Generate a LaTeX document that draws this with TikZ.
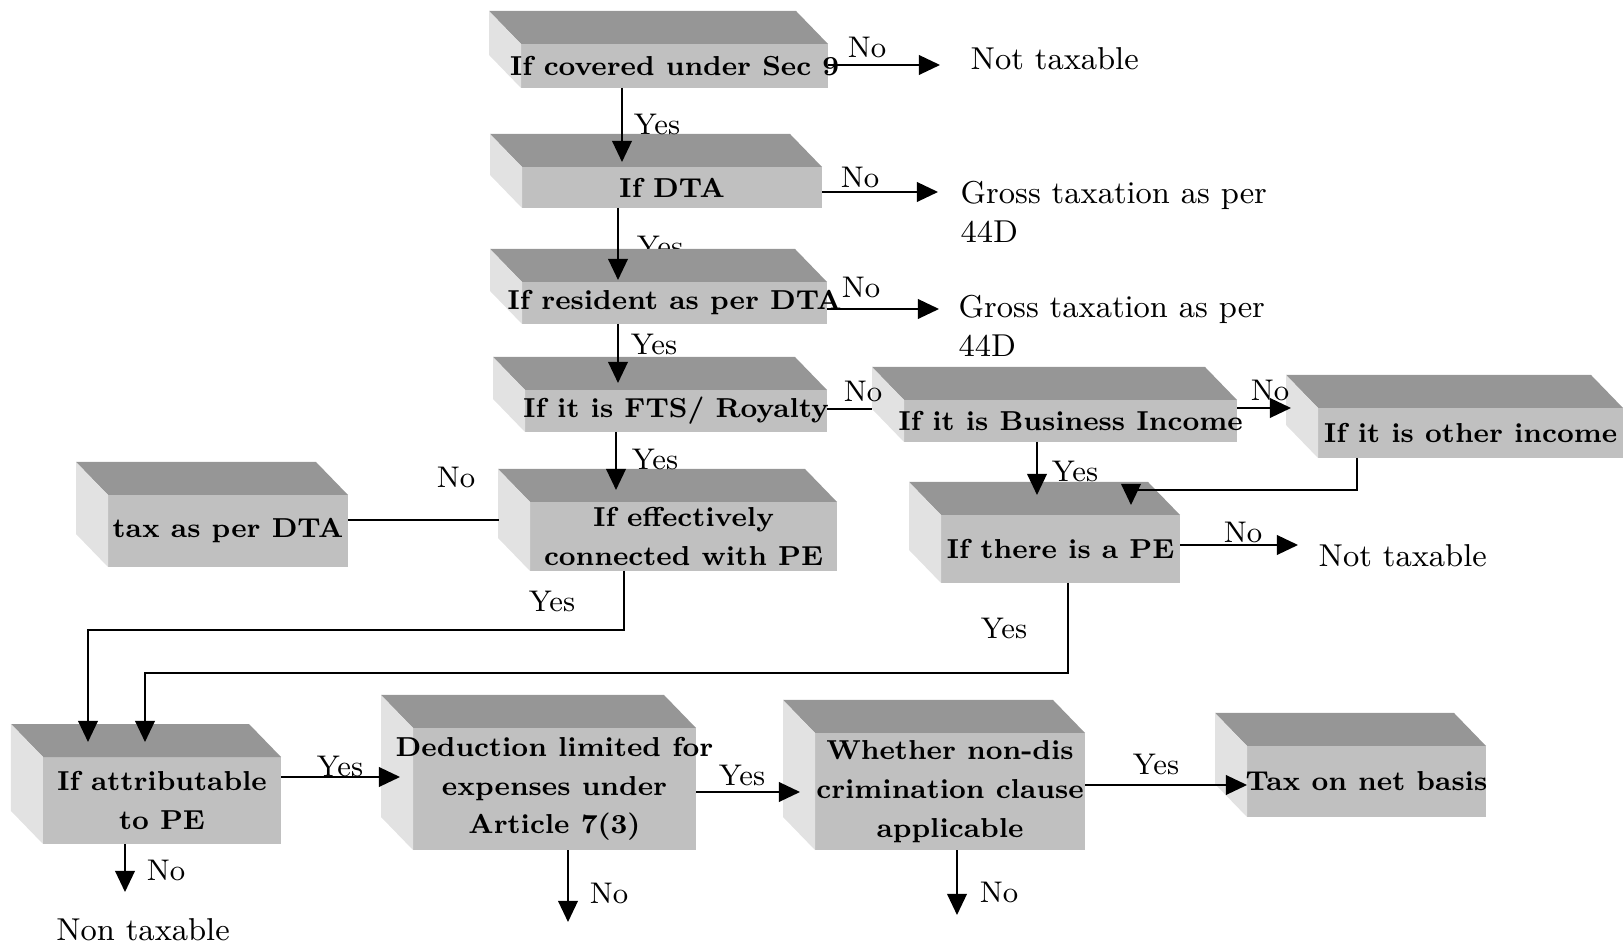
\documentclass[tikz,border=0pt]{standalone}
\usepackage{fontspec}
\usetikzlibrary{arrows.meta}
\definecolor{slabtop}{RGB}{150,150,150}
\definecolor{slabfront}{RGB}{192,192,192}
\definecolor{slabside}{RGB}{226,226,226}

\begin{document}
\begin{tikzpicture}[
  slab/.style={fill=slabfront,inner sep=0pt,outer sep=0pt},
  boxtext/.style={font=\fontsize{7.8}{11}\selectfont\bfseries,align=center,inner sep=0pt},
  note/.style={font=\fontsize{9}{11}\selectfont,align=left,inner sep=0pt},
  tag/.style={font=\fontsize{8.5}{10}\selectfont,inner sep=0pt},
  arrow/.style={-{Triangle[length=6pt,width=5.6pt]},line width=0.45pt},
  line/.style={line width=0.45pt},
]
\useasboundingbox (0,0) rectangle (16.23,-9.45);
% front faces
\node[slab,minimum width=3.07cm,minimum height=0.44cm] (sec9) at (6.745,-0.66) {};
\node[slab,minimum width=3.00cm,minimum height=0.41cm] (dta) at (6.72,-1.875) {};
\node[slab,minimum width=3.05cm,minimum height=0.42cm] (res) at (6.745,-3.03) {};
\node[slab,minimum width=3.02cm,minimum height=0.42cm] (fts) at (6.76,-4.11) {};
\node[slab,minimum width=3.33cm,minimum height=0.42cm] (bus) at (10.705,-4.21) {};
\node[slab,minimum width=3.05cm,minimum height=0.50cm] (oth) at (14.705,-4.33) {};
\node[slab,minimum width=2.39cm,minimum height=0.68cm] (pe) at (10.605,-5.49) {};
\node[slab,minimum width=2.40cm,minimum height=0.72cm] (tax) at (2.28,-5.31) {};
\node[slab,minimum width=3.07cm,minimum height=0.69cm] (eff) at (6.835,-5.365) {};
\node[slab,minimum width=2.38cm,minimum height=0.87cm] (att) at (1.62,-8.005) {};
\node[slab,minimum width=2.83cm,minimum height=1.22cm] (ded) at (5.545,-7.89) {};
\node[slab,minimum width=2.70cm,minimum height=1.17cm] (whe) at (9.50,-7.915) {};
\node[slab,minimum width=2.39cm,minimum height=0.71cm] (net) at (13.665,-7.815) {};
% this one sits half under the top face
\node[tag] (y2) at (6.60,-2.46) {Yes};
% top and side faces
\foreach \b in {sec9,dta,res,fts,bus,oth,pe,tax,eff,att,ded,whe,net}{
  \fill[slabtop] (\b.north west) -- ++(-0.32,0.33) -- ([shift={(-0.32,0.33)}]\b.north east) -- (\b.north east) -- cycle;
  \fill[slabside] (\b.north west) -- ++(-0.32,0.33) -- ([shift={(-0.32,0.33)}]\b.south west) -- (\b.south west) -- cycle;
}
% box texts
\node[boxtext] (sec9t) at (sec9) {If covered under Sec 9};
\node[boxtext] (dtat) at (dta) {If DTA};
\node[boxtext] (rest) at (res) {If resident as per DTA};
\node[boxtext] (ftst) at (fts) {If it is FTS/ Royalty};
\node[boxtext] (bust) at (bus) {If it is Business Income};
\node[boxtext] (otht) at (oth) {If it is other income};
\node[boxtext] (pet) at (pe) {If there is a PE};
\node[boxtext] (taxt) at (tax) {tax as per DTA};
\node[boxtext] (efft) at (eff) {If effectively\\connected with PE};
\node[boxtext] (attt) at (att) {If attributable\\to PE};
\node[boxtext] (dedt) at (ded) {Deduction limited for\\expenses under\\Article 7(3)};
\node[boxtext] (whet) at (whe) {Whether non-dis\\crimination clause\\applicable};
\node[boxtext] (nett) at (net) {Tax on net basis};
% outcomes
\node[note,anchor=base west] (nt1) at (9.70,-0.70) {Not taxable};
\node[note,anchor=north west] (g1) at (9.60,-1.81) {Gross taxation as per\\44D};
\node[note,anchor=north west] (g2) at (9.58,-2.95) {Gross taxation as per\\44D};
\node[note,anchor=base west] (nt2) at (13.18,-5.67) {Not taxable};
\node[note,anchor=base] (nt3) at (1.43,-9.40) {Non taxable};
% connectors
\draw[arrow] ([xshift=-5.25mm]sec9.south) -- ++(0,-0.74);
\draw[arrow] ([xshift=-5.4mm]dta.south) -- ++(0,-0.72);
\draw[arrow] ([xshift=-5.65mm]res.south) -- ++(0,-0.59);
\draw[arrow] ([xshift=-6mm]fts.south) -- ++(0,-0.58);
\draw[arrow] ([yshift=0.1mm]sec9.east) -- ++(1.12,0);
\draw[arrow] ([yshift=-0.45mm]dta.east) -- ++(1.16,0);
\draw[arrow] ([yshift=-0.6mm]res.east) -- ++(1.12,0);
\draw[line] ([yshift=0.2mm]fts.east) -- ++(0.45,0);
\draw[arrow] ([yshift=1.3mm]bus.east) -- ++(0.54,0);
\draw[arrow] ([xshift=-3.35mm]bus.south) -- ++(0,-0.53);
\draw[arrow] ([xshift=-11.35mm]oth.south) -- ++(0,-0.32) -| ([xshift=7.05mm,yshift=1mm]pe.north);
\draw[arrow] ([yshift=0.4mm]pe.east) -- ++(1.18,0);
\draw[line] ([yshift=1.1mm]tax.east) -- ++(1.51,0);
\draw[arrow] ([xshift=-5.95mm]eff.south) -- ++(0,-0.59) -| ([xshift=-7.4mm,yshift=1.5mm]att.north);
\draw[arrow] ([xshift=0.75mm]pe.south) -- ++(0,-0.90) -| ([xshift=-1.7mm,yshift=1.5mm]att.north);
\draw[arrow] ([yshift=2.35mm]att.east) -- ++(1.19,0);
\draw[arrow] ([yshift=-0.3mm]ded.east) -- ++(1.04,0);
\draw[arrow] ([yshift=0.65mm]whe.east) -- ++(1.62,0);
\draw[arrow] ([xshift=-3.7mm]att.south) -- ++(0,-0.48);
\draw[arrow] ([xshift=1.35mm]ded.south) -- ++(0,-0.72);
\draw[arrow] ([xshift=0.7mm]whe.south) -- ++(0,-0.65);
% yes / no
\node[tag] (n1) at (8.67,-0.47) {No};
\node[tag] (y1) at (6.57,-1.24) {Yes};
\node[tag] (n2) at (8.60,-1.77) {No};
\node[tag] (n3) at (8.61,-2.87) {No};
\node[tag] (y3) at (6.54,-3.44) {Yes};
\node[tag] (n4) at (8.63,-3.91) {No};
\node[tag] (n5) at (12.70,-3.90) {No};
\node[tag] (y4) at (10.75,-4.71) {Yes};
\node[tag] (n6) at (12.43,-5.32) {No};
\node[tag] (y5) at (6.55,-4.59) {Yes};
\node[tag] (n7) at (4.56,-4.77) {No};
\node[tag] (y6) at (5.52,-6.01) {Yes};
\node[tag] (y7) at (10.04,-6.28) {Yes};
\node[tag] (y8) at (3.40,-7.66) {Yes};
\node[tag] (n8) at (1.66,-8.70) {No};
\node[tag] (y9) at (7.42,-7.75) {Yes};
\node[tag] (n9) at (6.09,-8.93) {No};
\node[tag] (n10) at (9.99,-8.92) {No};
\node[tag] (y10) at (11.56,-7.64) {Yes};
\end{tikzpicture}
\end{document}
